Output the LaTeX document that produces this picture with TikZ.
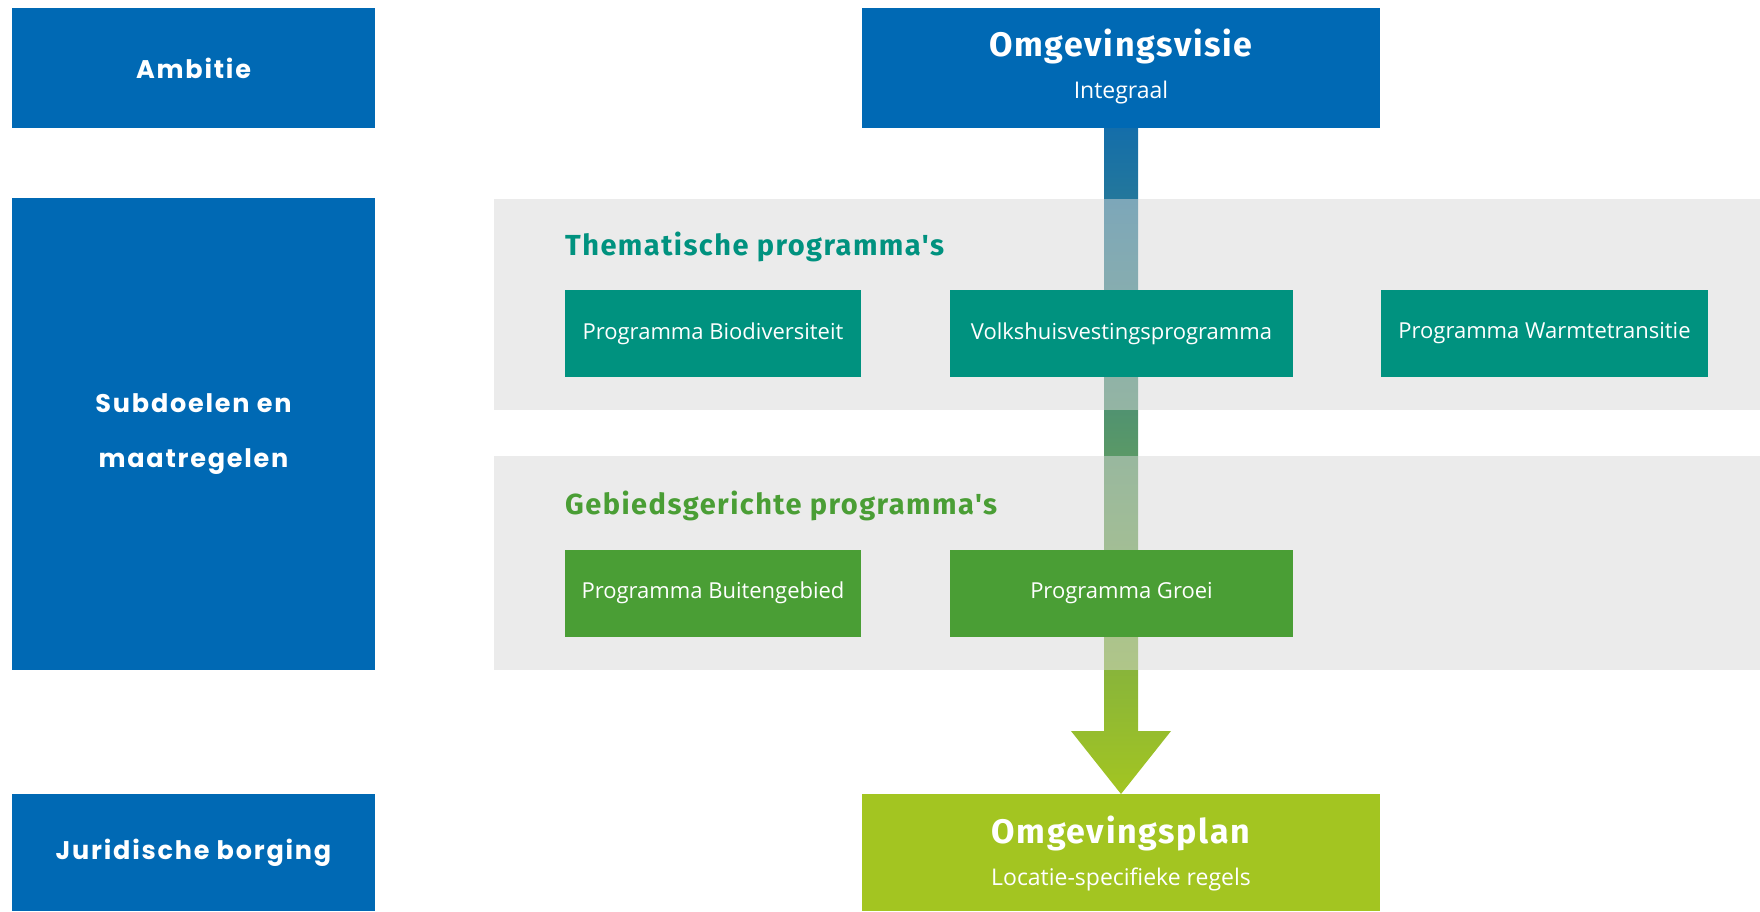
\documentclass[tikz,border=0pt]{standalone}
\usepackage{fontspec}
\setmainfont{Open Sans}
\newfontfamily\titelfont[LetterSpace=5]{Fira Sans}
\newfontfamily\niveaufont[LetterSpace=7]{Poppins}
\usetikzlibrary{calc,backgrounds}

\definecolor{blauw}{HTML}{0069B4}
\definecolor{pijlblauw}{HTML}{146EAA}
\definecolor{teal}{HTML}{00927F}
\definecolor{groen}{HTML}{4A9E35}
\definecolor{lime}{HTML}{A3C521}
\definecolor{bandgrijs}{HTML}{D7D7D7}

\begin{document}
\begin{tikzpicture}[x=1pt,y=-1pt,
	blok/.style={fill=#1, text=white, inner sep=0pt, outer sep=0pt},
	niveau/.style={blok=blauw, minimum width=363pt, align=center,
		font=\niveaufont\bfseries\fontsize{25.5}{55}\selectfont},
	prog/.style={blok=#1, minimum height=87pt, font=\fontsize{22}{26}\selectfont},
	titel/.style={text=#1, font=\titelfont\bfseries\fontsize{34}{40}\selectfont},
	kop/.style={text=#1, anchor=west, inner sep=0pt, font=\titelfont\bfseries\fontsize{29}{34}\selectfont},
	sub/.style={text=white, font=\fontsize{23}{27}\selectfont}]
	\useasboundingbox (0,0) rectangle (1760,911);

	% niveaus links
	\node[niveau, minimum height=120pt] (ambitie) at (193.5,68) {Ambitie};
	\node[niveau, minimum height=472pt] (subdoelen) at (193.5,434) {Subdoelen en\\maatregelen};
	\node[niveau, minimum height=117pt] (borging) at (193.5,852.5) {Juridische borging};

	% visie en plan
	\node[blok=blauw, minimum width=518pt, minimum height=120pt] (visie) at (1121,68) {};
	\node[titel=white] (visietitel) at (1121,46) {Omgevingsvisie};
	\node[sub] (visiesub) at (1121,93) {Integraal};
	\node[blok=lime, minimum width=518pt, minimum height=117pt] (plan) at (1121,852.5) {};
	\node[titel=white] (plantitel) at (1121,833) {Omgevingsplan};
	\node[sub] (plansub) at (1121,879) {Locatie-specifieke regels};

	% programma's
	\node[kop=teal] (thema) at (565,247) {Thematische programma's};
	\node[prog=teal, minimum width=296pt] (biodiv) at (713,333.5) {Programma Biodiversiteit};
	\node[prog=teal, minimum width=343pt] (volkshuis) at (1121.5,333.5) {Volkshuisvestingsprogramma};
	\node[prog=teal, minimum width=327pt] (warmte) at (1544.5,333.5) {Programma Warmtetransitie};
	\node[kop=groen] (gebied) at (565,506) {Gebiedsgerichte programma's};
	\node[prog=groen, minimum width=296pt] (buiten) at (713,593) {Programma Buitengebied};
	\node[prog=groen, minimum width=343pt] (groei) at (1121.5,593) {Programma Groei};

	\begin{scope}[on background layer]
		\shade[top color=pijlblauw, bottom color=lime]
			($(visie.south)+(-17,0)$) -- ($(visie.south)+(17,0)$) -- ($(plan.north)+(17,-63)$)
			-- ($(plan.north)+(50,-63)$) -- (plan.north) -- ($(plan.north)+(-50,-63)$)
			-- ($(plan.north)+(-17,-63)$) -- cycle;
		\fill[bandgrijs, fill opacity=0.5] (494,199) rectangle (1760,410);
		\fill[bandgrijs, fill opacity=0.5] (494,456) rectangle (1760,670);
	\end{scope}
\end{tikzpicture}
\end{document}
